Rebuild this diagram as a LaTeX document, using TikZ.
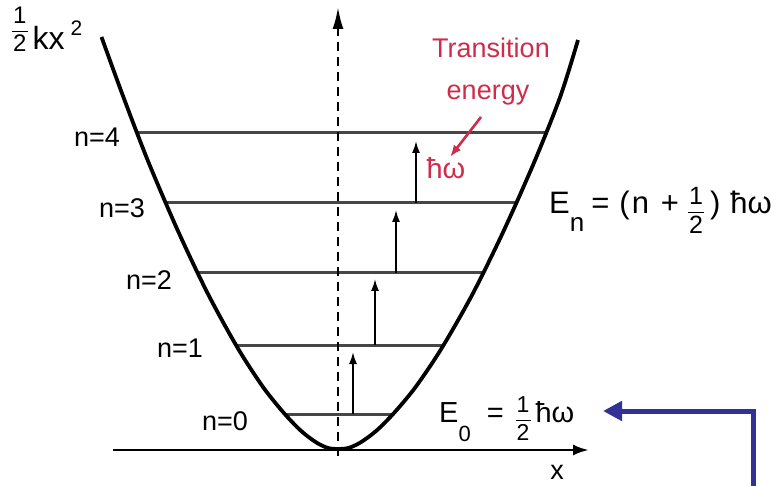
\documentclass[tikz,border=0pt]{standalone}
\usepackage{fontspec}
\setmainfont{Liberation Sans}
\usetikzlibrary{arrows.meta}
\definecolor{lvl}{RGB}{70,70,70}
\definecolor{tred}{RGB}{205,45,75}
\definecolor{pblue}{RGB}{50,50,150}
% stacked fraction: [raise]{num}{den}{size}
\newcommand\myfr[4][0pt]{\raisebox{#1}{\fontsize{#4}{#4}\selectfont\setlength\arrayrulewidth{1.3pt}\begin{tabular}[c]{@{\kern1pt}c@{\kern1pt}}#2\\\hline\noalign{\vskip3pt}#3\end{tabular}}}
\begin{document}
\begin{tikzpicture}[x=1pt,y=-1pt,
  lbl/.style={font=\fontsize{27}{30}\selectfont, inner sep=0pt},
  redlbl/.style={lbl, text=tred},
  levelline/.style={draw=lvl, line width=3pt},
  well/.style={draw=black, line width=3.8pt, line join=round},
  uparrow/.style={-{Latex[length=12pt,width=8pt]}, line width=1.8pt},
]
\useasboundingbox (0,0) rectangle (771,486);

% energy levels
\draw[levelline] (137,133) -- (546,133);
\draw[levelline] (166,203) -- (516,203);
\draw[levelline] (198,273) -- (483,273);
\draw[levelline] (236,345) -- (443,345);
\draw[levelline] (284,414) -- (394,414);

% axes
\coordinate (xs) at (113,450);
\coordinate (xe) at (589,450);
\draw[line width=2.8pt, -{Latex[length=16pt,width=11pt]}] (xs) -- (xe);
\coordinate (ys) at (338,456);
\coordinate (ye) at (338,7);
\draw[line width=2.4pt, dash pattern=on 9pt off 6pt, -{Latex[length=22pt,width=11pt]}] (ys) -- (ye);

% potential well
\draw[well] plot[smooth, tension=0.5] coordinates {
  (101.5,37) (123,96) (148,161) (178,231) (208,294) (238,348.5) (263,387)
  (283,412) (298,428) (308,436.6) (318,443.5) (328,448) (338,449)
  (348.4,448) (358.7,443.5) (369,436.6) (379.4,428) (394.9,412) (415.6,387)
  (441.5,348.5) (472.6,294) (503.6,231) (534.7,161) (560.5,96) (578,40)};

% transition arrows
\coordinate (a0) at (353,414); \coordinate (b0) at (353,352);
\coordinate (a1) at (375,345); \coordinate (b1) at (375,279);
\coordinate (a2) at (396,273); \coordinate (b2) at (396,210);
\coordinate (a3) at (416,203); \coordinate (b3) at (416,141);
\draw[uparrow] (a0) -- (b0);
\draw[uparrow] (a1) -- (b1);
\draw[uparrow] (a2) -- (b2);
\draw[uparrow] (a3) -- (b3);

% level labels
\node[lbl, anchor=east] (n4) at (120,137) {n=4};
\node[lbl, anchor=east] (n3) at (145,208) {n=3};
\node[lbl, anchor=east] (n2) at (172,280) {n=2};
\node[lbl, anchor=east] (n1) at (203,348) {n=1};
\node[lbl, anchor=east] (n0) at (248,421) {n=0};

% potential label
\node[lbl, anchor=base west, font=\fontsize{32}{34}\selectfont] (pot) at (12,50)
  {\myfr[11pt]{1}{2}{24}\kern5pt kx\raisebox{14pt}{\fontsize{21}{21}\selectfont\kern6pt 2}};

% x label
\node[lbl] (xl) at (557,472) {x};

% red annotation
\node[redlbl, anchor=base] (tr1) at (491,58) {Transition};
\node[redlbl, anchor=base] (tr2) at (488,100) {energy};
\node[redlbl, font=\fontsize{29}{30}\selectfont] (hw) at (446,168) {ħω};
\coordinate (rs) at (481,117);
\coordinate (rt) at (450,157);
\draw[tred, line width=2.6pt, -{Latex[length=12pt,width=9pt]}] (rs) -- (rt);

% formulas
\node[lbl, anchor=base west, font=\fontsize{31}{33}\selectfont] (En) at (549,214)
  {E\raisebox{-18pt}{\fontsize{26}{26}\selectfont n}\kern7pt=\kern10pt(\kern2pt n\kern12pt+\kern9pt\myfr[-6pt]{1}{2}{25}\kern6pt)\kern10pt ħω};
\node[lbl, anchor=base west, font=\fontsize{29}{31}\selectfont] (E0) at (439,422)
  {E\raisebox{-19pt}{\fontsize{22}{22}\selectfont 0}\kern16pt=\kern12pt\myfr[-6pt]{1}{2}{23}\kern5pt ħω};

% pointer arrow
\coordinate (bs) at (753,488);
\coordinate (bt) at (603,411);
\draw[pblue, line width=5pt, -{Triangle[length=19pt,width=19pt]}] (bs) |- (bt);
\end{tikzpicture}
\end{document}
